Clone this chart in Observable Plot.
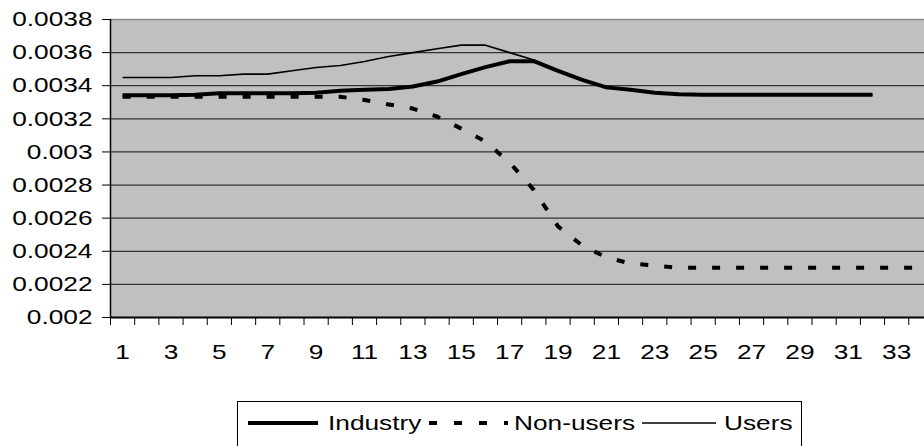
<!DOCTYPE html>
<html><head><meta charset="utf-8">
<script src="https://cdn.jsdelivr.net/npm/d3@7"></script>
<script src="https://cdn.jsdelivr.net/npm/@observablehq/plot@0.6"></script>
<style>
body{margin:0;background:#fff;font-family:"Liberation Sans",Arial,sans-serif;}
#wrap{position:relative;width:924px;height:446px;overflow:hidden;background:#fff;}
#chart{position:absolute;left:0;top:0;}
#legend{position:absolute;left:237px;top:401px;width:565px;height:70px;border:1px solid #000;box-sizing:border-box;background:#fff;}
#legend svg{position:absolute;}
#legend span{position:absolute;top:9px;font-size:21px;line-height:24px;color:#000;display:inline-block;white-space:nowrap;transform:scaleX(1.25);transform-origin:left center;}
</style></head>
<body>
<div id="wrap"><div id="chart"></div><div id="legend"></div></div>
<script>
// ---- data ----
const periods = [1,2,3,4,5,6,7,8,9,10,11,12,13,14,15,16,17,18,19,20,21,22,23,24,25,26,27,28,29,30,31,32,33,34,35];
const industry = [0.003342,0.003342,0.003342,0.003345,0.003355,0.003355,0.003355,0.003355,0.003357,0.00337,
  0.003375,0.00338,0.003395,0.003425,0.00347,0.003512,0.003548,0.003548,0.00349,0.003435,
  0.00339,0.003375,0.003357,0.003348,0.003345,0.003345,0.003345,0.003345,0.003345,0.003345,0.003345,0.003345];
const users = [0.00345,0.00345,0.00345,0.00346,0.00346,0.00347,0.00347,0.00349,0.00351,0.003522,
  0.003546,0.003576,0.0036,0.003623,0.003645,0.003645,0.0036,0.003556,0.00349,0.003435,
  0.00339,0.003375,0.003357,0.003348,0.003345,0.003345,0.003345,0.003345,0.003345,0.003345,0.003345,0.003345];
const nonUsers = [0.003333,0.003333,0.003333,0.003333,0.003333,0.003333,0.003333,0.003333,0.003333,0.003333,
  0.003314,0.003287,0.003262,0.003214,0.003141,0.003063,0.002936,0.002771,0.00255,0.002435,
  0.002363,0.002326,0.002314,0.0023,0.0023,0.0023,0.0023,0.0023,0.0023,0.0023,0.0023,0.0023,0.0023,0.0023,0.0023];
const seriesNames = ["Industry","Non-users","Users"];
const yTicks = [0.002,0.0022,0.0024,0.0026,0.0028,0.003,0.0032,0.0034,0.0036,0.0038];
const yTickLabels = ["0.002","0.0022","0.0024","0.0026","0.0028","0.003","0.0032","0.0034","0.0036","0.0038"];
const xTickLabels = [1,3,5,7,9,11,13,15,17,19,21,23,25,27,29,31,33];

// ---- build ----
const rows = (vals) => vals.map((v,i)=>({period: periods[i], value: v}));
const industryRows = rows(industry), usersRows = rows(users), nonUsersRows = rows(nonUsers);
const halfTicks = periods.slice(0,34).map(p => p - 0.5);

const chart = Plot.plot({
  width: 924, height: 380,
  marginLeft: 110, marginRight: 0, marginTop: 19, marginBottom: 63,
  style: {fontFamily: "'Liberation Sans', Arial, sans-serif", fontSize: "21px", color: "#000", background: "transparent", overflow: "visible"},
  x: {domain: [0.5, 34.15], axis: null},
  y: {domain: [0.002, 0.0038], axis: null},
  marks: [
    Plot.frame({fill: "#c0c0c0", stroke: "none"}),
    Plot.ruleY(yTicks.slice(1, -1), {stroke: "#333", strokeWidth: 1.3}),
    Plot.ruleY([yTicks[yTicks.length-1]], {stroke: "#8c8c8c", strokeWidth: 1.5}),
    Plot.lineY(nonUsersRows, {x: "period", y: "value", stroke: "#000", strokeWidth: 4, strokeDasharray: "8,16", strokeLinecap: "butt", clip: true}),
    Plot.lineY(usersRows, {x: "period", y: "value", stroke: "#000", strokeWidth: 1.6, strokeLinecap: "butt", clip: true}),
    Plot.lineY(industryRows, {x: "period", y: "value", stroke: "#000", strokeWidth: 4, strokeLinecap: "butt", clip: true}),
    Plot.ruleX([0.5], {stroke: "#000", strokeWidth: 1.5}),
    Plot.ruleY([yTicks[0]], {stroke: "#000", strokeWidth: 2}),
    Plot.axisY({ticks: yTicks, tickSize: 8, tickPadding: 10, label: null, tickFormat: d => yTickLabels[yTicks.indexOf(d)]}),
    Plot.axisX({ticks: xTickLabels, tickSize: 0, tickPadding: 27, label: null, tickFormat: d => String(d)}),
    Plot.axisX({ticks: halfTicks, tickSize: 8, label: null, tickFormat: () => ""})
  ]
});
document.getElementById("chart").appendChild(chart);
// horizontally stretch text (reference text is ~1.25x wider than normal)
for (const t of Array.from(chart.querySelectorAll("text"))) {
  if (!t.textContent) continue;
  const g = document.createElementNS("http://www.w3.org/2000/svg", "g");
  t.parentNode.insertBefore(g, t);
  g.appendChild(t);
  const b = g.getBBox();
  const anchor = getComputedStyle(t).textAnchor;
  const ax = anchor === "end" ? b.x + b.width : anchor === "middle" ? b.x + b.width / 2 : b.x;
  g.setAttribute("transform", `translate(${ax},0) scale(1.25,1) translate(${-ax},0)`);
}

// ---- legend ----
const legend = document.getElementById("legend");
const legendItems = [
  {name: seriesNames[0], sx: 10, sw: 70, tx: 90, width: 4, dash: null},
  {name: seriesNames[1], sx: 191, sw: 79, tx: 276, width: 4, dash: "8,17"},
  {name: seriesNames[2], sx: 404, sw: 74, tx: 486, width: 1.6, dash: null}
];
for (const it of legendItems) {
  const s = d3.create("svg").attr("width", it.sw).attr("height", 10)
    .style("left", it.sx + "px").style("top", "16px");
  s.append("line").attr("x1", 0).attr("x2", it.sw).attr("y1", 5).attr("y2", 5)
    .attr("stroke", "#000").attr("stroke-width", it.width)
    .attr("stroke-dasharray", it.dash);
  legend.appendChild(s.node());
  const sp = document.createElement("span");
  sp.textContent = it.name;
  sp.style.left = it.tx + "px";
  legend.appendChild(sp);
}
</script>
</body></html>
